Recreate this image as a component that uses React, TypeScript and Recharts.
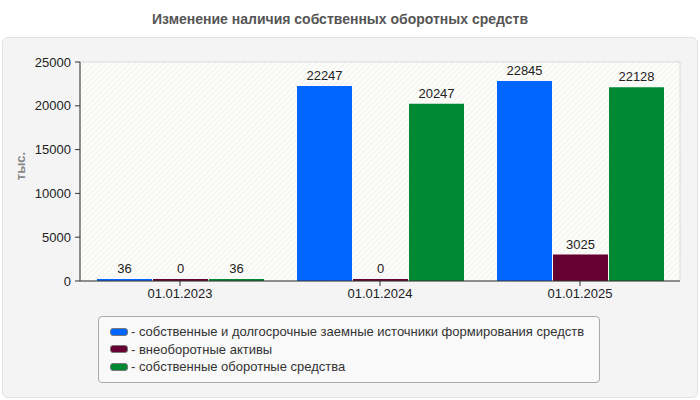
import { BarChart, Bar, XAxis, YAxis, CartesianGrid, LabelList, ReferenceArea } from 'recharts'

const dates = ['01.01.2023', '01.01.2024', '01.01.2025']
const sources = [36, 22247, 22845]
const fixedAssets = [0, 0, 3025]
const workingCapital = [36, 20247, 22128]
const yTicks = [0, 5000, 10000, 15000, 20000, 25000]

const seriesNames = [
  'собственные и долгосрочные заемные источники формирования средств',
  'внеоборотные активы',
  'собственные оборотные средства',
]
const colors = ['#0066ff', '#660033', '#008833']

const data = dates.map((d, i) => ({
  name: d,
  sources: sources[i],
  fixedAssets: fixedAssets[i],
  workingCapital: workingCapital[i],
}))

const font = '"Liberation Sans", Arial, sans-serif'
const tick = { fontSize: 13, fill: '#222', fontFamily: font }
const valueStyle = { fontSize: 13, fill: '#222', fontFamily: font }

export default function App() {
  return (
    <div style={{ position: 'absolute', left: 0, top: 0, width: 700, height: 400, background: '#fff', fontFamily: font }}>
      <div style={{ position: 'absolute', left: -10, top: 11, width: 700, textAlign: 'center', fontSize: 14, fontWeight: 700, color: '#555' }}>
        Изменение наличия собственных оборотных средств
      </div>
      <div style={{ position: 'absolute', left: 2, top: 37, width: 694, height: 359, background: '#f4f4f4', border: '1px solid #e2e2e2', borderRadius: 6 }} />
      <div style={{
        position: 'absolute', left: 20, top: 166, transform: 'translate(-50%, -50%) rotate(-90deg)',
        fontSize: 13, fontWeight: 700, color: '#888',
      }}>
        тыс.
      </div>
      <div style={{ position: 'absolute', left: 0, top: 0 }}>
        <BarChart width={700} height={330} data={data} margin={{ top: 62, right: 20, left: 20, bottom: 19 }}
          barSize={55} barGap={1}>
          <defs>
            <pattern id="hatch" width="4" height="4" patternUnits="userSpaceOnUse" patternTransform="rotate(45)">
              <rect width="4" height="4" fill="#fcfcf9" />
              <line x1="0" y1="0" x2="0" y2="4" stroke="#ececec" strokeWidth="1.2" />
            </pattern>
          </defs>
          <ReferenceArea y1={0} y2={25000} fill="url(#hatch)" fillOpacity={1} stroke="#dddddd" strokeWidth={1} ifOverflow="visible" />
          <CartesianGrid stroke="#dddddd" strokeDasharray="5 4" />
          <XAxis dataKey="name" tick={tick} tickSize={5} tickMargin={3} height={30}
            axisLine={{ stroke: '#333' }} tickLine={{ stroke: '#333' }} />
          <YAxis domain={[0, 25000]} ticks={yTicks} tick={tick} tickSize={5} tickMargin={4} width={60}
            axisLine={{ stroke: '#333' }} tickLine={{ stroke: '#333' }} interval={0} />
          <Bar dataKey="sources" fill={colors[0]} minPointSize={2} isAnimationActive={false}>
            <LabelList dataKey="sources" position="top" offset={6} style={valueStyle} />
          </Bar>
          <Bar dataKey="fixedAssets" fill={colors[1]} minPointSize={2} isAnimationActive={false}>
            <LabelList dataKey="fixedAssets" position="top" offset={6} style={valueStyle} />
          </Bar>
          <Bar dataKey="workingCapital" fill={colors[2]} minPointSize={2} isAnimationActive={false}>
            <LabelList dataKey="workingCapital" position="top" offset={6} style={valueStyle} />
          </Bar>
        </BarChart>
      </div>
      <div style={{
        position: 'absolute', left: 98, top: 316, width: 500, height: 65, background: '#f9f9f9',
        border: '1px solid #aaa', borderRadius: 4, boxSizing: 'content-box',
      }}>
        <div style={{ paddingTop: 6, paddingLeft: 11 }}>
          {seriesNames.map((n, i) => (
            <div key={n} style={{ display: 'flex', alignItems: 'center', height: 17.5, fontSize: 13, color: '#333' }}>
              <span style={{
                display: 'inline-block', width: 16, height: 6, background: colors[i],
                border: '1px solid #777', borderRadius: 3, marginRight: 3,
              }} />
              <span>- {n}</span>
            </div>
          ))}
        </div>
      </div>
    </div>
  )
}
